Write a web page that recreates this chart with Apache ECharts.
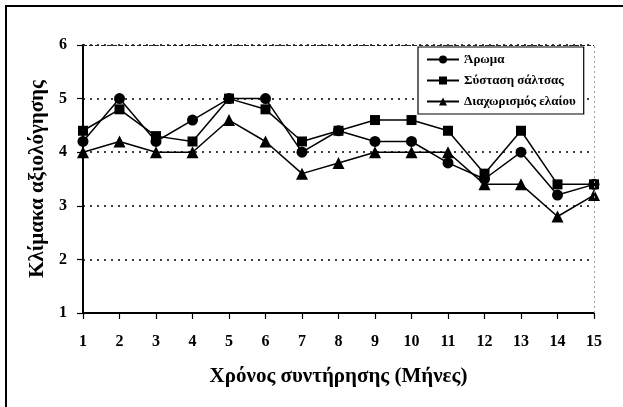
<!DOCTYPE html>
<html>
<head>
<meta charset="utf-8">
<script src="https://cdn.jsdelivr.net/npm/echarts@6/dist/echarts.min.js"></script>
<style>html,body{margin:0;padding:0;background:#fff}#c{width:623px;height:407px}</style>
</head>
<body>
<div id="c"></div>
<script>
const months = ['1','2','3','4','5','6','7','8','9','10','11','12','13','14','15'];
const aroma = [4.2, 5.0, 4.2, 4.6, 5.0, 5.0, 4.0, 4.4, 4.2, 4.2, 3.8, 3.5, 4.0, 3.2, 3.4];
const texture = [4.4, 4.8, 4.3, 4.2, 5.0, 4.8, 4.2, 4.4, 4.6, 4.6, 4.4, 3.6, 4.4, 3.4, 3.4];
const oilSep = [4.0, 4.2, 4.0, 4.0, 4.6, 4.2, 3.6, 3.8, 4.0, 4.0, 4.0, 3.4, 3.4, 2.8, 3.2];
const seriesNames = ['Άρωμα', 'Σύσταση σάλτσας', 'Διαχωρισμός ελαίου'];
const yTicks = [1, 2, 3, 4, 5, 6];

const FONT = '"Liberation Serif", "DejaVu Serif", serif';
const chart = echarts.init(document.getElementById('c'));
function mk(name, data, symbol, size) {
  return {
    name: name, type: 'line', data: data, symbol: symbol, symbolSize: size,
    showAllSymbol: true,
    lineStyle: { color: '#000', width: 1.5 },
    itemStyle: { color: '#000' },
    animation: false
  };
}
const s1 = mk(seriesNames[0], aroma, 'circle', 11);
const s2 = mk(seriesNames[1], texture, 'rect', 10);
const s3 = mk(seriesNames[2], oilSep, 'triangle', 12);
s1.markLine = {
  silent: true, symbol: 'none', label: { show: false },
  data: [
    { yAxis: yTicks[yTicks.length - 1], lineStyle: { color: '#222', type: [4, 2], width: 1.2 } },
    { xAxis: months[months.length - 1], lineStyle: { color: '#999', type: [2, 3], width: 1 } }
  ]
};
chart.setOption({
  backgroundColor: '#fff',
  animation: false,
  grid: { left: 83, right: 29, top: 45, bottom: 94 },
  graphic: [{
    type: 'rect', shape: { x: 6, y: 6, width: 640, height: 440 },
    style: { fill: 'none', stroke: '#000', lineWidth: 2 }, silent: true, z: 100
  }],
  legend: {
    orient: 'vertical', left: 418, top: 47,
    backgroundColor: '#fff', borderColor: '#000', borderWidth: 1.2,
    padding: [6, 8, 6, 8], itemGap: 8, itemWidth: 32, itemHeight: 10,
    textStyle: { fontFamily: FONT, fontWeight: 'bold', fontSize: 13, color: '#000' },
    data: seriesNames
  },
  xAxis: {
    type: 'category', data: months, boundaryGap: false,
    axisLine: { lineStyle: { color: '#000', width: 2 } },
    axisTick: { show: true, length: 6, lineStyle: { color: '#000', width: 1.2 } },
    axisLabel: { fontFamily: FONT, fontWeight: 'bold', fontSize: 16, color: '#000', margin: 21 },
    splitLine: { show: false },
    name: 'Χρόνος συντήρησης (Μήνες)', nameLocation: 'middle', nameGap: 53,
    nameTextStyle: { fontFamily: FONT, fontWeight: 'bold', fontSize: 21, color: '#000' }
  },
  yAxis: {
    type: 'value', min: yTicks[0], max: yTicks[yTicks.length - 1], interval: 1,
    axisLine: { show: true, lineStyle: { color: '#000', width: 2 } },
    axisTick: { show: true, length: 6, lineStyle: { color: '#000', width: 1.2 } },
    axisLabel: { fontFamily: FONT, fontWeight: 'bold', fontSize: 16, color: '#000', margin: 16 },
    splitLine: { show: true, lineStyle: { color: '#000', type: [2, 5], width: 1.5 } },
    name: 'Κλίμακα αξιολόγησης', nameLocation: 'middle', nameGap: 35, nameRotate: 90,
    nameTextStyle: { fontFamily: FONT, fontWeight: 'bold', fontSize: 21, color: '#000' }
  },
  series: [s1, s2, s3]
});
</script>
</body>
</html>
